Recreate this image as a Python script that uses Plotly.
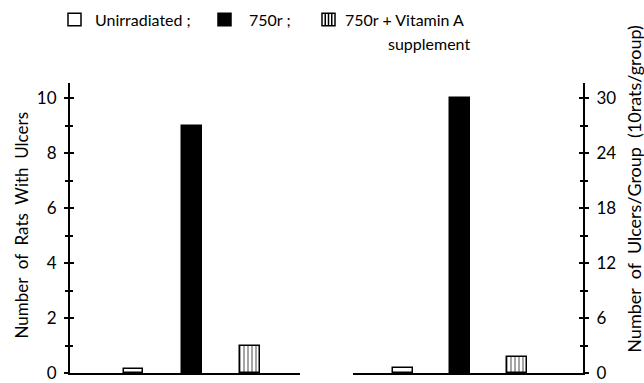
import plotly.graph_objects as go

categories = ["Unirradiated", "750r", "750r + Vitamin A supplement"]
rats_with_ulcers = [0.15, 9, 1]
ulcers_per_group = [0.5, 30, 1.8]
left_ticks = [0, 2, 4, 6, 8, 10]
right_ticks = [0, 6, 12, 18, 24, 30]

FONT = "Lato"
W, H = 644, 383
T, B = 83, 1
PH = H - T - B  # plot area height

def px(xp):
    return xp / W

def py(yp):
    return (H - B - yp) / PH

fills = ["white", "black", "white"]
patterns = ["", "", "|"]

fig = go.Figure()

def add_bars(xax, yax, vals, width):
    for i, (c, v) in enumerate(zip(categories, vals)):
        fig.add_trace(go.Bar(
            x=[i], y=[v], xaxis=xax, yaxis=yax, width=width,
            marker=dict(color=fills[i], line=dict(color="black", width=1.5),
                        pattern=dict(shape=patterns[i], fgcolor="black",
                                     bgcolor="white", size=4, solidity=0.35)),
            showlegend=False, hoverinfo="skip"))

add_bars("x", "y", rats_with_ulcers, 0.33)
add_bars("x2", "y2", ulcers_per_group, 0.34)

axis_common = dict(showgrid=False, zeroline=False, linecolor="black", linewidth=2,
                   tickcolor="black", ticklabeloverflow="allow",
                   tickfont=dict(family=FONT, size=17, color="black"))

fig.update_layout(
    width=W, height=H, margin=dict(l=0, r=0, t=T, b=B),
    plot_bgcolor="white", paper_bgcolor="white", bargap=0,
    xaxis=dict(domain=[px(70), px(300)], range=[-1.1, 2.86], showline=True, linecolor="black",
               linewidth=2, showticklabels=False, ticks="", showgrid=False, zeroline=False,
               anchor="y"),
    xaxis2=dict(domain=[px(353), px(583)], range=[-0.88, 3.16], showline=True, linecolor="black",
                linewidth=2, showticklabels=False, ticks="", showgrid=False, zeroline=False,
                anchor="y2"),
    yaxis=dict(range=[0, 10.56], anchor="x", side="left", showline=True,
               tickvals=left_ticks, ticks="outside", ticklen=4, tickwidth=1.5,
               minor=dict(dtick=1, ticks="outside", ticklen=3, tickcolor="black", tickwidth=1.5),
               ticklabelstandoff=4, **axis_common),
    yaxis2=dict(range=[0, 31.68], anchor="x2", side="right", showline=True,
                tickvals=right_ticks, ticks="outside", ticklen=4, tickwidth=1.5,
                minor=dict(dtick=3, ticks="outside", ticklen=3, tickcolor="black", tickwidth=1.5),
                ticklabelstandoff=4, **axis_common),
    yaxis3=dict(range=[0, 10.56], overlaying="y", anchor="x", side="left", showline=False,
                showgrid=False, zeroline=False, showticklabels=False,
                tickvals=left_ticks, ticks="inside", ticklen=4, tickwidth=1.5, tickcolor="black",
                minor=dict(dtick=1, ticks="inside", ticklen=3, tickcolor="black", tickwidth=1.5)),
    yaxis4=dict(range=[0, 31.68], overlaying="y2", anchor="x2", side="right", showline=False,
                showgrid=False, zeroline=False, showticklabels=False,
                tickvals=right_ticks, ticks="inside", ticklen=4, tickwidth=1.5, tickcolor="black",
                minor=dict(dtick=3, ticks="inside", ticklen=3, tickcolor="black", tickwidth=1.5)),
)
# invisible traces to activate overlay axes
fig.add_trace(go.Scatter(x=[0], y=[0], xaxis="x", yaxis="y3", mode="markers",
                         marker=dict(opacity=0), showlegend=False, hoverinfo="skip"))
fig.add_trace(go.Scatter(x=[0], y=[0], xaxis="x2", yaxis="y4", mode="markers",
                         marker=dict(opacity=0), showlegend=False, hoverinfo="skip"))

tf = dict(family=FONT, size=16, color="black")

# axis titles
fig.add_annotation(x=px(22), y=py(230), xref="paper", yref="paper", textangle=-90,
                   text="\u00a0 ".join(["Number", "of", "Rats", "With", "Ulcers"]), showarrow=False,
                   font=dict(family=FONT, size=17, color="black"),
                   xanchor="center", yanchor="middle")
fig.add_annotation(x=px(634), y=py(192), xref="paper", yref="paper", textangle=-90,
                   text="\u00a0 ".join(["Number", "of", "Ulcers/Group", "(10rats/group)"]),
                   showarrow=False, font=dict(family=FONT, size=18, color="black"),
                   xanchor="center", yanchor="middle")

# legend
legend_items = [("Unirradiated ;", 68, 93, "white", ""),
                ("750r ;", 218, 247, "black", ""),
                ("750r + Vitamin A", 322, 343, "white", "|")]
for text, bx, tx, col, pat in legend_items:
    fig.add_shape(type="rect", xref="paper", yref="paper",
                  x0=px(bx), x1=px(bx + 13), y0=py(24), y1=py(11),
                  fillcolor=col, line=dict(color="black", width=1.5))
    if pat:
        for k in range(1, 4):
            xx = px(bx + 13 * k / 4)
            fig.add_shape(type="line", xref="paper", yref="paper", x0=xx, x1=xx,
                          y0=py(24), y1=py(11), line=dict(color="black", width=1.5))
    fig.add_annotation(x=px(tx), y=py(18), xref="paper", yref="paper", text=text,
                       showarrow=False, font=tf, xanchor="left", yanchor="middle")
fig.add_annotation(x=px(472), y=py(42), xref="paper", yref="paper", text="supplement",
                   showarrow=False, font=tf, xanchor="right", yanchor="middle")

fig.write_html("out.html")
